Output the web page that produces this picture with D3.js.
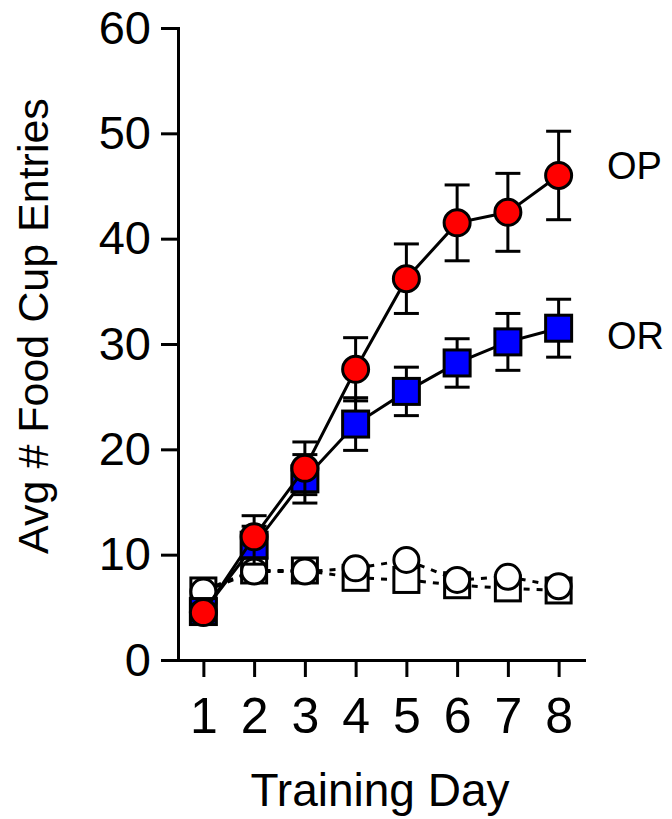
<!DOCTYPE html>
<html>
<head>
<meta charset="utf-8" />
<style>
	body { margin: 0; background: #fff; }
	svg { display: block; font-family: Arial, "Liberation Sans", sans-serif; }
</style>
<title>Food Cup Entries</title>
</head>
<body>
<script src="https://cdn.jsdelivr.net/npm/d3@7"></script>
<script>
	// training days
	var days = [1, 2, 3, 4, 5, 6, 7, 8];
	var yTicks = [0, 10, 20, 30, 40, 50, 60];

	// OP (red circles) mean and SEM
	var opMean = [4.5, 11.7, 18.2, 27.6, 36.2, 41.5, 42.5, 46.0];
	var opSem = [0.8, 2.0, 2.5, 3.0, 3.3, 3.6, 3.7, 4.2];
	// OR (blue squares) mean and SEM
	var orMean = [4.6, 10.9, 17.2, 22.4, 25.5, 28.2, 30.2, 31.5];
	var orSem = [0.8, 1.8, 2.3, 2.5, 2.3, 2.3, 2.7, 2.75];
	// open markers (dashed lines)
	var opOpen = [6.5, 8.4, 8.4, 8.7, 9.5, 7.6, 7.9, 7.0];
	var orOpen = [6.6, 8.5, 8.5, 7.8, 7.6, 7.1, 6.8, 6.6];

	// end labels and the value they sit at
	var labelText = ["OP", "OR"];
	var labelAt = [47.0, 30.8];

	var W = 672, H = 819;
	var svg = d3.select("body").append("svg").attr("width", W).attr("height", H);

	var x = d3.scaleLinear().domain([0.5, 8.5]).range([178, 584]);
	var y = d3.scaleLinear().domain([0, 60]).range([660, 28]);

	// axes
	var gy = svg.append("g")
		.attr("transform", `translate(${x.range()[0]},0)`)
		.call(d3.axisLeft(y).tickValues(yTicks).tickSize(17).tickSizeOuter(0).tickPadding(10));
	var gx = svg.append("g")
		.attr("transform", `translate(0,${y.range()[0]})`)
		.call(d3.axisBottom(x).tickValues(days).tickSize(17).tickSizeOuter(0).tickPadding(20.5));

	[gy, gx].forEach(g => {
		g.selectAll("path, line").attr("stroke", "#000").attr("stroke-width", 3);
		g.selectAll("path").attr("stroke-linecap", "square");
		g.selectAll("text").attr("fill", "#000").attr("font-family", null);
	});
	gy.selectAll("text").attr("font-size", 47);
	gx.selectAll("text").attr("font-size", 50);
	gy.attr("font-size", null); gx.attr("font-size", null);

	// titles
	svg.append("text")
		.attr("transform", "translate(48,326) rotate(-90)")
		.attr("text-anchor", "middle")
		.attr("font-size", 43)
		.text("Avg # Food Cup Entries");
	svg.append("text")
		.attr("x", 380).attr("y", 806)
		.attr("text-anchor", "middle")
		.attr("font-size", 46)
		.text("Training Day");

	var line = d3.line().x((d, i) => x(days[i])).y(d => y(d));

	function openSeries(values, shape) {
		var g = svg.append("g");
		g.append("path")
			.attr("d", line(values))
			.attr("fill", "none")
			.attr("stroke", "#000")
			.attr("stroke-width", 3)
			.attr("stroke-dasharray", "6,7");
		drawMarkers(g, values, shape, "#fff", 12.5);
	}

	function drawMarkers(g, values, shape, fill, r) {
		if (shape === "circle") {
			g.selectAll("circle").data(values).join("circle")
				.attr("cx", (d, i) => x(days[i]))
				.attr("cy", d => y(d))
				.attr("r", r)
				.attr("fill", fill)
				.attr("stroke", "#000")
				.attr("stroke-width", 3);
		} else {
			g.selectAll("rect").data(values).join("rect")
				.attr("x", (d, i) => x(days[i]) - r)
				.attr("y", d => y(d) - r)
				.attr("width", 2 * r)
				.attr("height", 2 * r)
				.attr("fill", fill)
				.attr("stroke", "#000")
				.attr("stroke-width", 3);
		}
	}

	function solidSeries(means, sems, shape, fill) {
		var g = svg.append("g");
		var eb = g.selectAll("g.err").data(means).join("g").attr("class", "err");
		eb.append("line")
			.attr("x1", (d, i) => x(days[i])).attr("x2", (d, i) => x(days[i]))
			.attr("y1", (d, i) => y(d + sems[i])).attr("y2", (d, i) => y(d - sems[i]));
		eb.append("line")
			.attr("x1", (d, i) => x(days[i]) - 12.5).attr("x2", (d, i) => x(days[i]) + 12.5)
			.attr("y1", (d, i) => y(d + sems[i])).attr("y2", (d, i) => y(d + sems[i]));
		eb.append("line")
			.attr("x1", (d, i) => x(days[i]) - 12.5).attr("x2", (d, i) => x(days[i]) + 12.5)
			.attr("y1", (d, i) => y(d - sems[i])).attr("y2", (d, i) => y(d - sems[i]));
		eb.selectAll("line").attr("stroke", "#000").attr("stroke-width", 3);

		g.append("path")
			.attr("d", line(means))
			.attr("fill", "none")
			.attr("stroke", "#000")
			.attr("stroke-width", 3);
		drawMarkers(g, means, shape, fill, 13);
	}

	openSeries(orOpen, "square");
	openSeries(opOpen, "circle");
	solidSeries(orMean, orSem, "square", "#0000ff");
	solidSeries(opMean, opSem, "circle", "#ff0000");

	// end labels
	svg.selectAll("text.lab").data(labelText).join("text")
		.attr("class", "lab")
		.attr("x", 607)
		.attr("y", (d, i) => y(labelAt[i]))
		.attr("dy", "0.36em")
		.attr("font-size", 38)
		.text(d => d);
</script>
</body>
</html>
